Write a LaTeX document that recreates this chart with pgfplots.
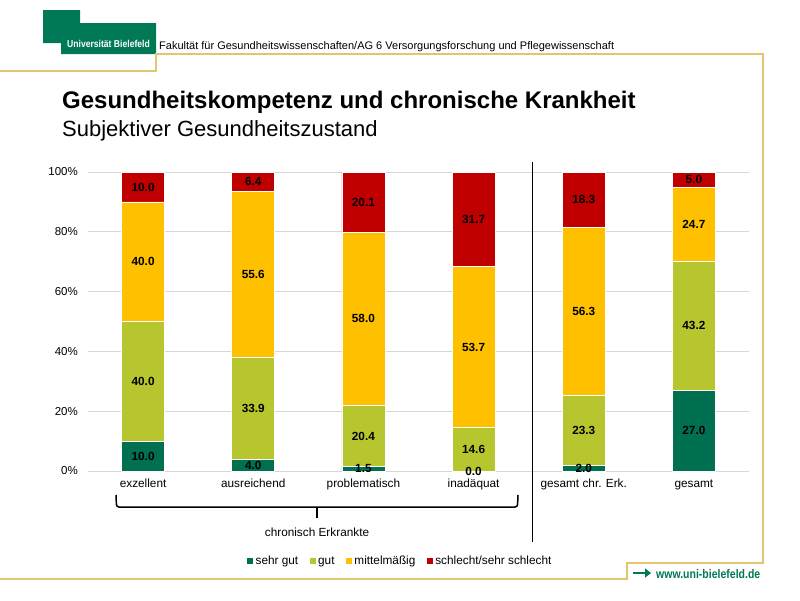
\documentclass[border=0pt]{standalone}
\usepackage{pgfplots}
\pgfplotsset{compat=1.18}
\usepackage{pgfplotstable}
\usepackage{fontspec}
\setmainfont{Liberation Sans}
\usetikzlibrary{arrows.meta}

\definecolor{sehrgut}{RGB}{0,112,80}
\definecolor{gut}{RGB}{183,198,46}
\definecolor{mittel}{RGB}{255,192,0}
\definecolor{schlecht}{RGB}{192,0,0}
\definecolor{unigreen}{RGB}{0,121,86}
\definecolor{framegold}{RGB}{226,197,112}
\definecolor{gridgray}{RGB}{214,214,214}

% Subjektiver Gesundheitszustand (%), je Gruppe der Gesundheitskompetenz
\pgfplotstableread{
cat sehrgut gut mittel schlecht
0 10.0 40.0 40.0 10.0
1 4.0 33.9 55.6 6.4
2 1.5 20.4 58.0 20.1
3 0.0 14.6 53.7 31.7
4 2.0 23.3 56.3 18.3
5 27.0 43.2 24.7 5.0
}\health

\pgfplotsset{
  panel/.style={
    at={(88pt,-471pt)}, anchor=south west,
    width=661pt, height=299pt, scale only axis,
    xmin=-0.5, xmax=5.5, ymin=0, ymax=100,
    /pgf/number format/assume math mode=true,
  },
  seglabel/.style={
    only marks, mark=*, mark size=0pt,
    scatter/use mapped color={draw opacity=0, fill opacity=0},
    point meta=explicit,
    nodes near coords={\pgfmathprintnumber[fixed,fixed zerofill,precision=1,assume math mode=true]{\pgfplotspointmeta}},
    every node near coord/.append style={anchor=center, inner sep=0pt, text=black,
      font=\bfseries\fontsize{11.8}{13}\selectfont},
  },
}

\begin{document}
\begin{tikzpicture}[x=1pt,y=-1pt]
\fill[white] (0,0) rectangle (800,600);
\useasboundingbox (0,0) rectangle (800,600);

% Logo
\fill[unigreen] (43,10) -- (80,10) -- (80,23) -- (156,23) -- (156,54) -- (61,54) -- (61,43) -- (43,43) -- cycle;
\node[anchor=base, inner sep=0pt, text=white] at (108.5,47.5)
  {\scalebox{0.86}[1]{\bfseries\fontsize{10}{12}\selectfont Universität Bielefeld}};

% Frame
\draw[framegold, line width=1.2pt] (0,71) -- (156,71) -- (156,54) -- (763,54) -- (763,563) -- (627,563) -- (627,579) -- (0,579);

% Header and titles
\node[anchor=base west, inner sep=0pt, font=\fontsize{11}{13}\selectfont] at (159,49.5)
  {Fakultät für Gesundheitswissenschaften/AG 6 Versorgungsforschung und Pflegewissenschaft};
\node[anchor=base west, inner sep=0pt, font=\bfseries\fontsize{24}{28}\selectfont] at (62,108)
  {Gesundheitskompetenz und chronische Krankheit};
\node[anchor=base west, inner sep=0pt, font=\fontsize{22}{26}\selectfont] at (62,136)
  {Subjektiver Gesundheitszustand};

% Stacked bars
\begin{axis}[
  panel,
  ybar stacked, bar width=43pt,
  axis line style={draw=none},
  major tick length=0pt,
  ymajorgrids, grid style={gridgray, line width=0.8pt},
  ytick={0,20,40,60,80,100},
  yticklabels={0\%,20\%,40\%,60\%,80\%,100\%},
  xtick={0,1,2,3,4,5},
  xticklabels={exzellent,ausreichend,problematisch,inadäquat,gesamt chr. Erk.,gesamt},
  yticklabel style={anchor=east, inner sep=0pt, xshift=-10pt, font=\fontsize{11.5}{13}\selectfont},
  xticklabel style={anchor=north, inner sep=0pt, yshift=-8pt, text height=8.6pt, text depth=2.5pt,
    font=\fontsize{11.8}{13}\selectfont},
  legend columns=4,
  legend image code/.code={\fill[#1, draw=none] (0pt,-3pt) rectangle (6pt,3pt);},
  legend style={at={(0.4728,-0.301)}, anchor=center, draw=none, fill=none,
    font=\fontsize{11.8}{13}\selectfont,
    nodes={inner sep=2.2pt},
    /tikz/every even column/.append style={column sep=9.5pt}},
]
\addplot[fill=sehrgut, draw=white, line width=0.6pt] table[x=cat, y=sehrgut] {\health};
\addplot[fill=gut, draw=white, line width=0.6pt] table[x=cat, y=gut] {\health};
\addplot[fill=mittel, draw=white, line width=0.6pt] table[x=cat, y=mittel] {\health};
\addplot[fill=schlecht, draw=white, line width=0.6pt] table[x=cat, y=schlecht] {\health};
\legend{sehr gut, gut, mittelmäßig, schlecht/sehr schlecht}
\end{axis}

% Segment values, each centred in its own segment
\begin{axis}[panel, hide axis, clip=false]
\addplot[seglabel] table[x=cat, y expr={\thisrow{sehrgut}/2}, meta=sehrgut] {\health};
\addplot[seglabel] table[x=cat, y expr={\thisrow{sehrgut}+\thisrow{gut}/2}, meta=gut] {\health};
\addplot[seglabel] table[x=cat, y expr={\thisrow{sehrgut}+\thisrow{gut}+\thisrow{mittel}/2}, meta=mittel] {\health};
\addplot[seglabel] table[x=cat, y expr={\thisrow{sehrgut}+\thisrow{gut}+\thisrow{mittel}+\thisrow{schlecht}/2}, meta=schlecht] {\health};
\end{axis}

% Separator between groups
\draw[black, line width=0.9pt] (532,162) -- (532,542);

% Brace for the chronically ill groups
\draw[black, line width=1.5pt, rounded corners=2.5pt] (116,495) -- (116.5,507) -- (517.5,507) -- (518,495);
\draw[black, line width=1.5pt] (317,507) -- (317,518);
\node[inner sep=0pt, font=\fontsize{11.8}{13}\selectfont] at (317,532) {chronisch Erkrankte};

% Web address
\draw[unigreen, line width=2.6pt, -{Triangle[length=6pt,width=9pt]}] (633,573) -- (651,573);
\node[anchor=base west, inner sep=0pt, text=unigreen] at (656,578)
  {\scalebox{0.84}[1]{\bfseries\fontsize{12.5}{14}\selectfont www.uni-bielefeld.de}};
\end{tikzpicture}
\end{document}
